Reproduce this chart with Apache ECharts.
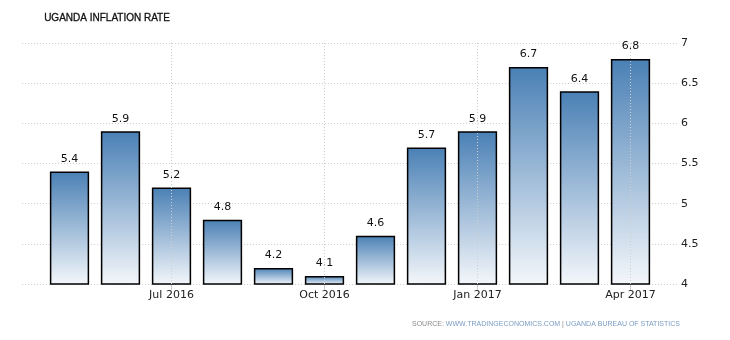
<!DOCTYPE html>
<html><head><meta charset="utf-8">
<script src="https://cdn.jsdelivr.net/npm/echarts@6/dist/echarts.min.js"></script>
<style>html,body{margin:0;padding:0;background:#fff}#c{width:730px;height:340px}</style>
</head><body><div id="c"></div>
<script>
const categories = ['May 2016','Jun 2016','Jul 2016','Aug 2016','Sep 2016','Oct 2016','Nov 2016','Dec 2016','Jan 2017','Feb 2017','Mar 2017','Apr 2017'];
const values = [5.4, 5.9, 5.2, 4.8, 4.2, 4.1, 4.6, 5.7, 5.9, 6.7, 6.4, 6.8];
const labeledCategories = ['Jul 2016','Oct 2016','Jan 2017','Apr 2017'];
const yTicks = [4, 4.5, 5, 5.5, 6, 6.5, 7];

const FONT = '"DejaVu Sans", Verdana, sans-serif';
const NARROW = '"Liberation Sans", Arial, sans-serif';
const chart = echarts.init(document.getElementById('c'));
const showIdx = (i) => labeledCategories.indexOf(categories[i]) >= 0;
chart.setOption({
  animation: false,
  textStyle: {fontFamily: FONT},
  graphic: [
    {type: 'text', left: 44, top: 13, style: {text: 'UGANDA INFLATION RATE', font: '10px ' + NARROW, fill: '#111', stroke: '#111', lineWidth: 0.3}},
    {type: 'text', left: 412, top: 321, style: {
      rich: {s: {fill: '#8a8a8a', font: '7px ' + NARROW}, l: {fill: '#7a9cc2', font: '7px ' + NARROW}},
      text: '{s|SOURCE: }{l|WWW.TRADINGECONOMICS.COM}{s| | }{l|UGANDA BUREAU OF STATISTICS}'}}
  ],
  grid: [
    {left: 44, right: 74, top: 43, bottom: 56},
    {left: 22, right: 53, top: 43, bottom: 56}
  ],
  xAxis: [
    {type: 'category', gridIndex: 0, data: categories,
     axisLine: {show: false},
     axisTick: {show: true, alignWithLabel: true, length: 6, interval: (i) => showIdx(i), lineStyle: {color: '#cccccc'}},
     axisLabel: {interval: (i) => showIdx(i), color: '#222', fontSize: 11, margin: 6, fontFamily: FONT},
     splitLine: {show: false}},
    {type: 'value', gridIndex: 1, show: false, min: 0, max: 1}
  ],
  yAxis: [
    {type: 'value', gridIndex: 0, min: yTicks[0], max: yTicks[yTicks.length - 1], interval: 0.5, show: false},
    {type: 'value', gridIndex: 1, position: 'right', min: yTicks[0], max: yTicks[yTicks.length - 1], interval: 0.5,
     axisLine: {show: false}, axisTick: {show: false},
     axisLabel: {color: '#222', fontSize: 11, margin: 4, fontFamily: FONT},
     splitLine: {show: true, lineStyle: {color: '#cfcfcf', type: [1, 2], width: 1}}}
  ],
  series: [
    {type: 'bar', xAxisIndex: 0, yAxisIndex: 0, data: values, barCategoryGap: '23%',
     itemStyle: {
       borderColor: '#000', borderWidth: 1.5, borderRadius: 0,
       color: {type: 'linear', x: 0, y: 0, x2: 0, y2: 1, colorStops: [
         {offset: 0, color: '#4a80b5'}, {offset: 1, color: '#f4f7fb'}]}
     },
     label: {show: true, position: 'top', distance: 7, color: '#111', fontSize: 11, fontFamily: FONT},
     markLine: {silent: true, symbol: 'none', label: {show: false},
       lineStyle: {color: '#cfcfcf', type: [1, 2], width: 1},
       data: labeledCategories.map(c => ({xAxis: c}))},
     z: 3
    }
  ]
});
</script></body></html>
